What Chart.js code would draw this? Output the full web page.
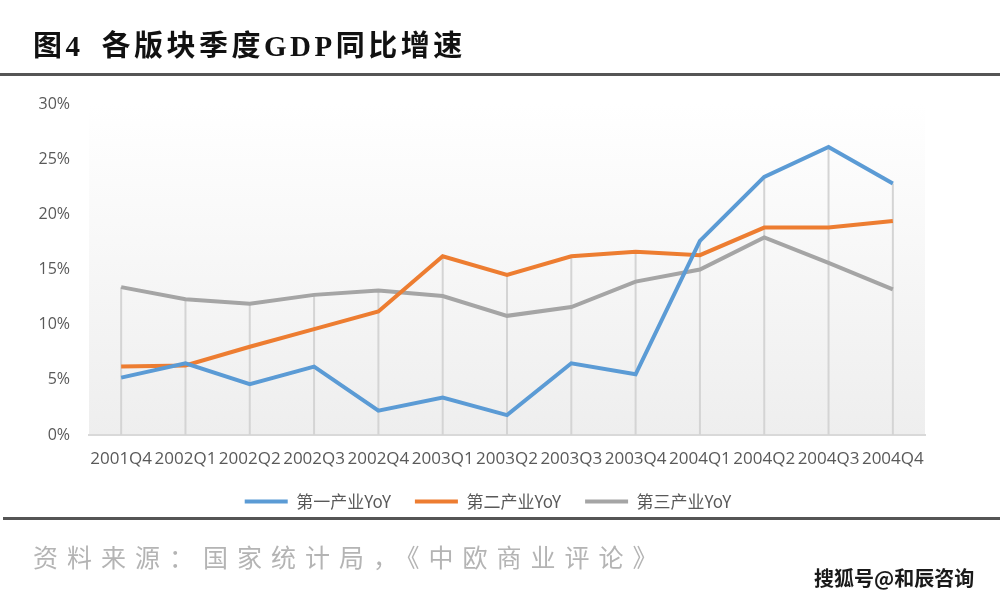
<!DOCTYPE html>
<html>
<head>
<meta charset="utf-8">
<script src="https://cdn.jsdelivr.net/npm/chart.js@4"></script>
<style>
  html, body { margin: 0; padding: 0; background: #fff; }
  #wrap { position: relative; width: 1000px; height: 600px; overflow: hidden; }
  #chart { position: absolute; left: 0; top: 0; }
  .title {
    position: absolute; left: 33px; top: 26px;
    font-family: "Liberation Serif", "Noto Sans CJK SC", serif;
    font-weight: bold; font-size: 29px; letter-spacing: 3.5px; color: #111;
    white-space: nowrap; line-height: 40px;
  }
  .title span { margin-left: 18px; }
  .rule { position: absolute; left: 0; width: 1000px; height: 3px; background: #555; }
  .source {
    position: absolute; left: 33px; top: 540px;
    font-family: "Noto Sans CJK SC", sans-serif; font-size: 25px;
    letter-spacing: 9px; color: #b4b4b4; white-space: nowrap; line-height: 32px;
  }
  .mark {
    position: absolute; left: 814px; top: 564px;
    font-family: "Noto Sans CJK SC", sans-serif; font-weight: bold; font-size: 20px;
    color: #1a1a1a; white-space: nowrap; line-height: 28px;
    text-shadow: 1px 1px 0 #fff, -1px -1px 0 #fff, 1px -1px 0 #fff, -1px 1px 0 #fff;
  }
</style>
</head>
<body>
<div id="wrap">
  <canvas id="chart" width="1000" height="600"></canvas>
  <div class="title">图4<span>各版块季度GDP同比增速</span></div>
  <div class="rule" style="top:73px"></div>
  <div class="rule" style="top:517px; left:3px"></div>
  <div class="source">资料来源：国家统计局，《中欧商业评论》</div>
  <div class="mark">搜狐号@和辰咨询</div>
</div>
<script>
// quarters on the x axis
const quarters = ['2001Q4', '2002Q1', '2002Q2', '2002Q3', '2002Q4', '2003Q1', '2003Q2',
                  '2003Q3', '2003Q4', '2004Q1', '2004Q2', '2004Q3', '2004Q4'];

// year-on-year growth, in percent
const primary   = [5.2, 6.5, 4.6, 6.2, 2.2, 3.4, 1.8, 6.5, 5.5, 17.6, 23.4, 26.1, 22.8];
const secondary = [6.2, 6.3, 8.0, 9.6, 11.2, 16.2, 14.5, 16.2, 16.6, 16.3, 18.8, 18.8, 19.4];
const tertiary  = [13.4, 12.3, 11.9, 12.7, 13.1, 12.6, 10.8, 11.6, 13.9, 15.0, 17.9, 15.6, 13.2];

const seriesNames = ['第一产业YoY', '第二产业YoY', '第三产业YoY'];
const seriesColors = ['#5B9BD5', '#ED7D31', '#A5A5A5'];

const yTicks = { min: 0, max: 30, step: 5 };

// gradient fill behind the plot area
const plotBackground = {
    id: 'plotBackground',
    beforeDraw(chart) {
        const { ctx, chartArea: a } = chart;
        const g = ctx.createLinearGradient(0, a.top, 0, a.bottom);
        g.addColorStop(0, '#ffffff');
        g.addColorStop(1, '#eeeeee');
        ctx.save();
        ctx.fillStyle = g;
        ctx.fillRect(a.left, a.top, a.right - a.left, a.bottom - a.top);
        ctx.restore();
    }
};

// excel style drop lines from the highest point down to the axis
const dropLines = {
    id: 'dropLines',
    beforeDatasetsDraw(chart) {
        const { ctx, scales: { x, y } } = chart;
        ctx.save();
        ctx.strokeStyle = '#d4d4d4';
        ctx.lineWidth = 2;
        quarters.forEach((q, i) => {
            const top = Math.max(...chart.data.datasets.map(d => d.data[i]));
            const px = x.getPixelForValue(i);
            ctx.beginPath();
            ctx.moveTo(px, y.getPixelForValue(top));
            ctx.lineTo(px, y.getPixelForValue(0));
            ctx.stroke();
        });
        ctx.restore();
    }
};

const ctx = document.getElementById('chart').getContext('2d');
const chart = new Chart(ctx, {
    type: 'line',
    data: {
        labels: quarters,
        datasets: [primary, secondary, tertiary].map((values, i) => ({
            label: seriesNames[i],
            data: values,
            borderColor: seriesColors[i],
            backgroundColor: seriesColors[i],
            borderWidth: 4,
            pointRadius: 0,
            tension: 0,
            fill: false
        }))
    },
    options: {
        responsive: false,
        animation: false,
        layout: { padding: { top: 104, left: 0, right: 24, bottom: 80 } },
        plugins: {
            tooltip: { enabled: false },
            legend: {
                position: 'bottom',
                labels: {
                    boxWidth: 43,
                    boxHeight: 4,
                    padding: 24,
                    color: '#595959',
                    font: { family: '"Noto Sans CJK SC", sans-serif', size: 17 },
                    generateLabels(chart) {
                        return chart.data.datasets.map((d, i) => ({
                            text: d.label,
                            fillStyle: d.borderColor,
                            strokeStyle: d.borderColor,
                            lineWidth: 0,
                            fontColor: '#595959',
                            datasetIndex: i
                        }));
                    }
                }
            }
        },
        scales: {
            x: {
                offset: true,
                grid: { display: false, drawTicks: false },
                border: { color: '#d9d9d9', width: 2 },
                ticks: {
                    autoSkip: false, maxRotation: 0, padding: 14,
                    color: '#595959',
                    font: { family: '"Open Sans", sans-serif', size: 17 }
                },
                afterFit(scale) { scale.height = 34; }
            },
            y: {
                min: yTicks.min,
                max: yTicks.max,
                grid: { display: false, drawTicks: false },
                border: { display: false },
                ticks: {
                    stepSize: yTicks.step, padding: 19,
                    color: '#595959',
                    font: { family: '"Open Sans", sans-serif', size: 16 },
                    callback: v => v + '%'
                },
                afterFit(scale) { scale.width = 89; }
            },
            y2: {
                position: 'right',
                grid: { display: false, drawTicks: false },
                border: { display: false },
                ticks: { display: false },
                afterFit(scale) { scale.width = 51; }
            }
        }
    },
    plugins: [plotBackground, dropLines]
});
</script>
</body>
</html>
